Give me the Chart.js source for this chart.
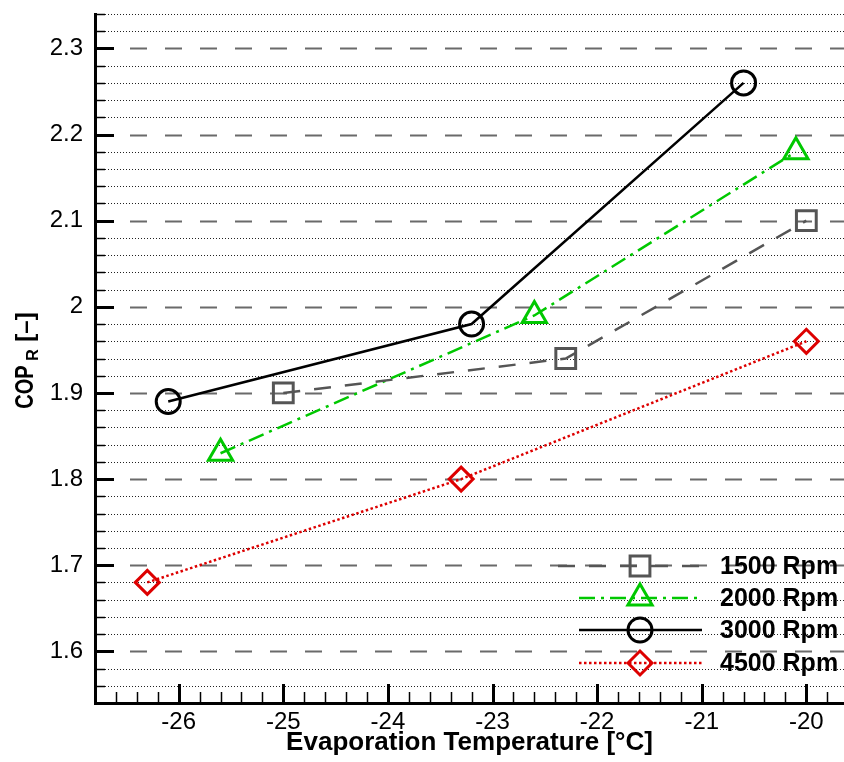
<!DOCTYPE html>
<html>
<head>
<meta charset="utf-8">
<script src="https://cdn.jsdelivr.net/npm/chart.js@4.4.1/dist/chart.umd.min.js"></script>
<style>
html, body { margin: 0; padding: 0; background: #fff; }
#wrap { width: 844px; height: 762px; }
</style>
</head>
<body>
<div id="wrap"><canvas id="chart" width="844" height="762"></canvas></div>
<script>
// --- data ---
const seriesLabels = ['1500 Rpm', '2000 Rpm', '3000 Rpm', '4500 Rpm'];
const temp1500 = [-25.0, -22.3, -20.0];
const cop1500 = [1.90, 1.94, 2.10];
const temp2000 = [-25.6, -22.6, -20.1];
const cop2000 = [1.83, 1.99, 2.18];
const temp3000 = [-26.1, -23.2, -20.6];
const cop3000 = [1.89, 1.98, 2.26];
const temp4500 = [-26.3, -23.3, -20.0];
const cop4500 = [1.68, 1.80, 1.96];

// --- axes ---
const xMajorTicks = [-26, -25, -24, -23, -22, -21, -20];
const yMajorTicks = [1.6, 1.7, 1.8, 1.9, 2.0, 2.1, 2.2, 2.3];
const xMin = -26.8, xMax = -19.64, xMinorStep = 0.2;
const yMin = 1.54, yMax = 2.34, yMinorStep = 0.02;

const FONT = '"Liberation Sans", Arial, sans-serif';

function isMajor(v, majors) {
    return majors.some(m => Math.abs(m - v) < 1e-6);
}

function toPoints(xs, ys) {
    return xs.map((x, i) => ({ x: x, y: ys[i] }));
}

function minorTicks(min, max, step, digits) {
    const out = [];
    const f = Math.pow(10, digits);
    for (let i = 0; min + i * step <= max + 1e-9; i++) {
        out.push({ value: Math.round((min + i * step) * f) / f });
    }
    return out;
}

// gridlines and inward tick marks, drawn under the series
const framePlugin = {
    id: 'frame',
    beforeDatasetsDraw(chart) {
        const ctx = chart.ctx;
        const { left, right, bottom } = chart.chartArea;
        const xs = chart.scales.x, ys = chart.scales.y;
        ctx.save();
        ys.ticks.forEach(t => {
            if (Math.abs(t.value - yMin) < 1e-6) return;
            const py = Math.round(ys.getPixelForValue(t.value));
            if (isMajor(t.value, yMajorTicks)) {
                ctx.setLineDash([]);
                ctx.strokeStyle = '#000';
                ctx.lineWidth = 3;
                ctx.beginPath(); ctx.moveTo(left, py + 0.5); ctx.lineTo(left + 19, py + 0.5); ctx.stroke();
                ctx.setLineDash([17, 18]);
                ctx.strokeStyle = '#6a6a6a';
                ctx.lineWidth = 2;
                ctx.beginPath(); ctx.moveTo(left + 35, py + 0.5); ctx.lineTo(right, py + 0.5); ctx.stroke();
            } else {
                ctx.setLineDash([]);
                ctx.strokeStyle = '#000';
                ctx.lineWidth = 1.5;
                ctx.beginPath(); ctx.moveTo(left, py + 0.5); ctx.lineTo(left + 10, py + 0.5); ctx.stroke();
                ctx.setLineDash([1, 2]);
                ctx.strokeStyle = '#222';
                ctx.lineWidth = 1;
                ctx.beginPath(); ctx.moveTo(left + 10, py + 0.5); ctx.lineTo(right, py + 0.5); ctx.stroke();
            }
        });
        ctx.setLineDash([]);
        ctx.strokeStyle = '#000';
        xs.ticks.forEach(t => {
            if (Math.abs(t.value - xMin) < 1e-6) return;
            const px = Math.round(xs.getPixelForValue(t.value)) + 0.5;
            const major = isMajor(t.value, xMajorTicks);
            ctx.lineWidth = major ? 3 : 1.5;
            ctx.beginPath(); ctx.moveTo(px, bottom); ctx.lineTo(px, bottom - (major ? 19 : 11)); ctx.stroke();
        });
        ctx.restore();
    },
    afterDraw(chart) {
        const ctx = chart.ctx;
        const { left, right } = chart.chartArea;
        ctx.save();

        // legend inside the plot, bottom right
        const rowY = [566, 598, 630, 663];
        const lineStart = [558, 579, 579, 579];
        chart.data.datasets.forEach((ds, i) => {
            ctx.strokeStyle = ds.borderColor;
            ctx.lineWidth = ds.borderWidth;
            ctx.setLineDash(ds.borderDash || []);
            ctx.beginPath(); ctx.moveTo(lineStart[i], rowY[i]); ctx.lineTo(702, rowY[i]); ctx.stroke();
            ctx.setLineDash([]);
            ctx.fillStyle = 'rgba(0,0,0,0)';
            ctx.lineWidth = ds.pointBorderWidth;
            Chart.helpers.drawPoint(ctx, {
                pointStyle: ds.pointStyle, radius: ds.pointRadius, rotation: 0, borderWidth: ds.pointBorderWidth
            }, 640, rowY[i]);
            ctx.fillStyle = '#000';
            ctx.font = 'bold 25px ' + FONT;
            ctx.textAlign = 'left';
            ctx.textBaseline = 'middle';
            ctx.fillText(ds.label, 720, rowY[i] + 1);
        });

        // x title
        ctx.fillStyle = '#000';
        ctx.font = 'bold 26px ' + FONT;
        ctx.textAlign = 'center';
        ctx.textBaseline = 'middle';
        ctx.fillText('Evaporation Temperature [°C]', (left + right) / 2, 743);

        // y title with subscript
        ctx.translate(26, 358);
        ctx.rotate(-Math.PI / 2);
        ctx.textBaseline = 'middle';
        ctx.textAlign = 'center';
        ctx.save();
        ctx.scale(0.8, 1);
        ctx.font = 'bold 25px ' + FONT;
        ctx.fillText('COP', -29 / 0.8, 0);
        ctx.restore();
        ctx.font = 'bold 16px ' + FONT;
        ctx.fillText('R', 3, 8);
        ctx.font = 'bold 24px ' + FONT;
        ctx.fillText('[–]', 31, 0);
        ctx.restore();
    }
};

const pointCommon = { pointBackgroundColor: 'rgba(0,0,0,0)', pointBorderWidth: 3, pointHoverRadius: 12, tension: 0, fill: false };

const chart = new Chart(document.getElementById('chart'), {
    type: 'line',
    data: {
        datasets: [
            Object.assign({
                label: seriesLabels[0], data: toPoints(temp1500, cop1500),
                borderColor: '#555', pointBorderColor: '#555', borderWidth: 2.5, borderDash: [17, 14],
                pointStyle: 'rect', pointRadius: 14
            }, pointCommon),
            Object.assign({
                label: seriesLabels[1], data: toPoints(temp2000, cop2000),
                borderColor: '#00c800', pointBorderColor: '#00c800', borderWidth: 2.5, borderDash: [16, 6, 3, 6],
                pointStyle: 'triangle', pointRadius: 14
            }, pointCommon),
            Object.assign({
                label: seriesLabels[2], data: toPoints(temp3000, cop3000),
                borderColor: '#000', pointBorderColor: '#000', borderWidth: 2.5, borderDash: [],
                pointStyle: 'circle', pointRadius: 12
            }, pointCommon),
            Object.assign({
                label: seriesLabels[3], data: toPoints(temp4500, cop4500),
                borderColor: '#dd0000', pointBorderColor: '#dd0000', borderWidth: 2.5, borderDash: [2.5, 2.5],
                pointStyle: 'rectRot', pointRadius: 12
            }, pointCommon)
        ]
    },
    options: {
        responsive: false,
        animation: false,
        devicePixelRatio: 1,
        layout: { autoPadding: false, padding: { top: 14, right: 0, left: 0, bottom: 0 } },
        plugins: { legend: { display: false }, tooltip: { enabled: false } },
        scales: {
            x: {
                type: 'linear', min: xMin, max: xMax,
                afterBuildTicks: s => { s.ticks = minorTicks(xMin, xMax, xMinorStep, 1); },
                afterFit: s => { s.height = 59; s.paddingLeft = 0; s.paddingRight = 0; },
                grid: { display: false, drawTicks: false },
                border: { display: true, color: '#000', width: 3 },
                ticks: {
                    autoSkip: false, maxRotation: 0, padding: 5, color: '#000',
                    font: { family: FONT, size: 24 },
                    callback: v => isMajor(v, xMajorTicks) ? String(Math.round(v)) : ''
                }
            },
            y: {
                type: 'linear', min: yMin, max: yMax,
                afterBuildTicks: s => { s.ticks = minorTicks(yMin, yMax, yMinorStep, 2); },
                afterFit: s => { s.width = 95; s.paddingTop = 0; s.paddingBottom = 0; },
                grid: { display: false, drawTicks: false },
                border: { display: true, color: '#000', width: 3 },
                ticks: {
                    autoSkip: false, padding: 12, color: '#000',
                    font: { family: FONT, size: 24 },
                    callback: v => isMajor(v, yMajorTicks) ? String(Math.round(v * 10) / 10) : ''
                }
            }
        }
    },
    plugins: [framePlugin]
});
</script>
</body>
</html>
